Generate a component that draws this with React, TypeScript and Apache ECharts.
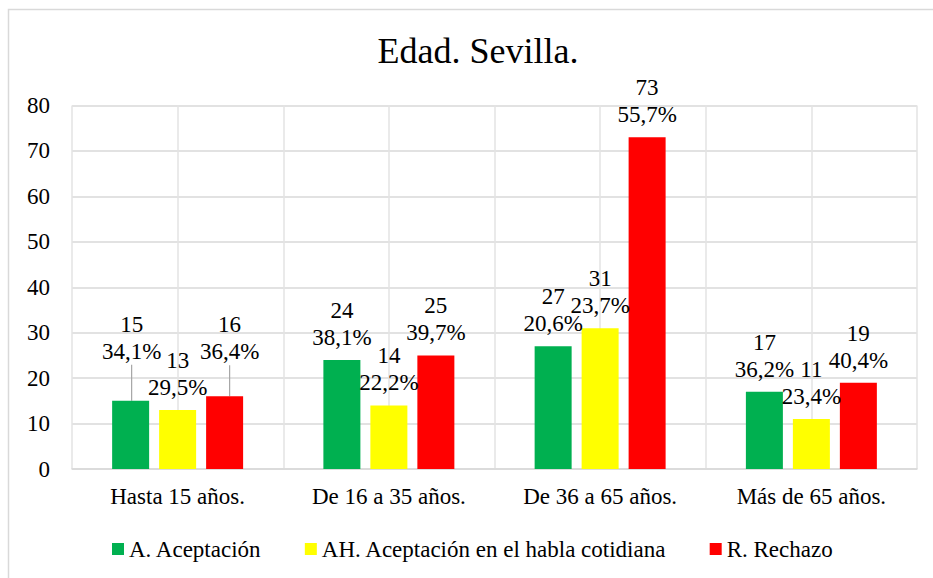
import React, { useEffect, useRef } from "react";
import * as echarts from "echarts";

const categories = ["Hasta 15 años.", "De 16 a 35 años.", "De 36 a 65 años.", "Más de 65 años."];
const seriesNames = ["A. Aceptación", "AH. Aceptación en el habla cotidiana", "R. Rechazo"];
const aceptacion = [15, 24, 27, 17];
const aceptacionPct = ["34,1%", "38,1%", "20,6%", "36,2%"];
const aceptacionHabla = [13, 14, 31, 11];
const aceptacionHablaPct = ["29,5%", "22,2%", "23,7%", "23,4%"];
const rechazo = [16, 25, 73, 19];
const rechazoPct = ["36,4%", "39,7%", "55,7%", "40,4%"];
const yTicks = [0, 10, 20, 30, 40, 50, 60, 70, 80];

const FONT = "Liberation Serif, Times New Roman, serif";
const colors = ["#00B050", "#FFFF00", "#FF0000"];

// labels that were moved away from their bar (series, index) -> shift
const moved: Record<string, { dx: number; dy: number }> = {
  "0-0": { dx: 1, dy: -27 },
  "2-0": { dx: 5, dy: -22 },
};

const txt = (size: number) => ({
  fontFamily: FONT,
  fontSize: size,
  fontWeight: "normal" as const,
  fontStyle: "normal" as const,
  color: "#000",
});

export default function App() {
  const ref = useRef<HTMLDivElement>(null);
  useEffect(() => {
    if (!ref.current) return;
    const chart = echarts.init(ref.current, undefined, { renderer: "svg" });
    const values = [aceptacion, aceptacionHabla, rechazo];
    const pcts = [aceptacionPct, aceptacionHablaPct, rechazoPct];
    const series = values.map((vals, si) => ({
      name: seriesNames[si],
      type: "bar",
      xAxisIndex: 0,
      barWidth: 37,
      barGap: "27%",
      itemStyle: { color: colors[si] },
      label: {
        show: true,
        position: "top",
        distance: 9,
        ...txt(23),
        lineHeight: 27,
        formatter: (p: any) => `${p.value}\n${pcts[si][p.dataIndex]}`,
      },
      labelLine: { show: false, lineStyle: { color: "#a6a6a6", width: 1.2 } },
      labelLayout: (p: any) => {
        const m = moved[`${si}-${p.dataIndex}`];
        return m ? { dx: m.dx, dy: m.dy } : {};
      },
      data: vals.map((v, i) =>
        moved[`${si}-${i}`]
          ? { value: v, labelLine: { show: true, lineStyle: { color: "#a6a6a6", width: 1.2 } } }
          : v
      ),
    }));

    chart.setOption({
      animation: false,
      backgroundColor: "#fff",
      textStyle: txt(23),
      title: {
        text: "Edad. Sevilla.",
        left: 478,
        top: 33,
        padding: 0,
        textAlign: "center",
        textStyle: txt(36),
      },
      legend: {
        data: seriesNames,
        left: 112,
        top: 537.5,
        padding: 0,
        icon: "rect",
        itemWidth: 12,
        itemHeight: 12,
        itemGap: 43,
        textStyle: txt(23),
      },
      grid: { left: 72, right: 16, top: 105.5, bottom: 109, containLabel: false },
      xAxis: [
        {
          type: "category",
          data: categories,
          axisLine: { show: true, lineStyle: { color: "#d9d9d9", width: 1.5 } },
          axisTick: { show: false },
          splitLine: { show: false },
          axisLabel: { ...txt(23), margin: 16, interval: 0 },
        },
        {
          type: "category",
          position: "bottom",
          data: ["", "", "", "", "", "", "", ""],
          axisLine: { show: false },
          axisTick: { show: false },
          axisLabel: { show: false },
          splitLine: { show: true, interval: 0, lineStyle: { color: "#e3e3e3", width: 1.5 } },
        },
      ],
      yAxis: {
        type: "value",
        min: yTicks[0],
        max: yTicks[yTicks.length - 1],
        interval: 10,
        axisLine: { show: false },
        axisTick: { show: false },
        splitLine: { show: true, lineStyle: { color: "#d9d9d9", width: 1.5 } },
        axisLabel: { ...txt(23), margin: 22 },
      },
      graphic: [
        {
          type: "rect",
          silent: true,
          shape: { x: 8.5, y: 9.5, width: 1200, height: 1200 },
          style: { fill: "none", stroke: "#d9d9d9", lineWidth: 1.5 },
          z: -10,
        },
      ],
      series,
    });
    return () => chart.dispose();
  }, []);
  return (
    <div
      ref={ref}
      style={{
        position: "absolute",
        left: 0,
        top: 0,
        width: 933,
        height: 578,
        fontFamily: "Liberation Serif, serif",
      }}
    />
  );
}
